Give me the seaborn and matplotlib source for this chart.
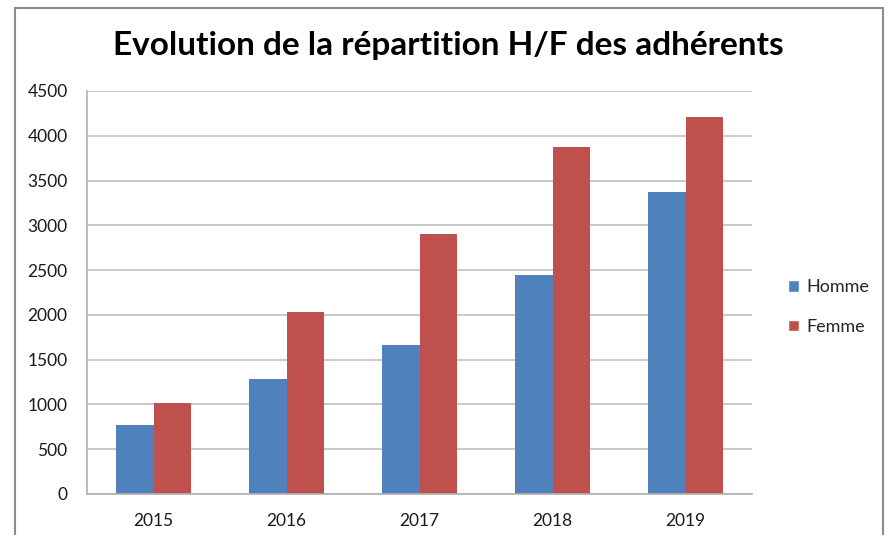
import matplotlib
matplotlib.use("Agg")
import matplotlib.pyplot as plt
from matplotlib.patches import Rectangle, Patch
import seaborn as sns
import pandas as pd

# donnees
annees = ["2015", "2016", "2017", "2018", "2019"]
homme = [770, 1280, 1660, 2440, 3370]
femme = [1020, 2030, 2900, 3880, 4210]
series = ["Homme", "Femme"]
couleurs = ["#4F81BD", "#C0504D"]

df = pd.DataFrame({
    "annee": annees * 2,
    "valeur": homme + femme,
    "sexe": ["Homme"] * len(annees) + ["Femme"] * len(annees),
})

sns.set_style("white")
plt.rcParams['font.family'] = ['Lato', 'DejaVu Sans']

fig = plt.figure(figsize=(8.89, 5.35), dpi=100)
ax = fig.add_axes([87/889, 1-494/535, (752-87)/889, (494-91)/535])

sns.barplot(data=df, x="annee", y="valeur", hue="sexe", hue_order=series,
            palette=couleurs, saturation=1, width=0.57, linewidth=0,
            ax=ax, legend=False)

ax.set_ylim(0, 4500)
ax.set_yticks(range(0, 4501, 500))
ax.set_xlabel("")
ax.set_ylabel("")
ax.yaxis.grid(True, color="#c0c0c0", linewidth=1.2)
ax.set_axisbelow(True)
for s in ["top", "right"]:
    ax.spines[s].set_visible(False)
for s in ["left", "bottom"]:
    ax.spines[s].set_color("#b0b0b0")
    ax.spines[s].set_linewidth(1.2)
ax.tick_params(axis="y", length=0, pad=14, labelsize=12.5, labelcolor="#1a1a1a")
ax.tick_params(axis="x", length=0, pad=14, labelsize=12.5, labelcolor="#1a1a1a")

fig.text(448/889, 1-45/535, "Evolution de la répartition H/F des adhérents",
         ha="center", va="center", fontsize=24, fontweight="bold", color="black")

handles = [Patch(facecolor=c, label=l) for c, l in zip(couleurs, series)]
fig.legend(handles=handles, loc="center left", bbox_to_anchor=(772/889, 1-307/535),
           frameon=False, fontsize=13, handlelength=0.6, handleheight=0.6,
           handletextpad=0.4, labelspacing=1.3)

fig.patches.append(Rectangle((15/889, -0.1), (883-15)/889, 1.1-8/535,
                             transform=fig.transFigure, fill=False,
                             edgecolor="#8c8c8c", linewidth=1.5))

fig.savefig("out.png", dpi=100, facecolor="white")
